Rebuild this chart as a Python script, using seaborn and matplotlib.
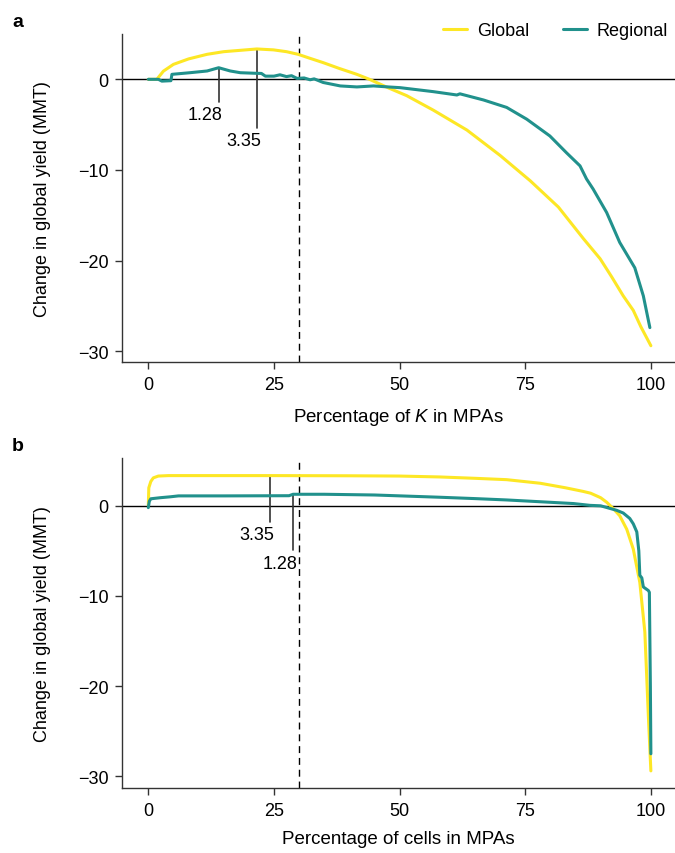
import numpy as np
import pandas as pd
import matplotlib
matplotlib.use("Agg")
import matplotlib.pyplot as plt
import seaborn as sns

# Panel a: change in global yield vs percentage of K in MPAs
k_global_x = [0, 1.7, 3, 5, 8, 11.7, 15, 18.3, 21.6, 24.9, 27.5, 29.8, 32, 34.8, 38, 41.5, 44,
              46, 48, 51.4, 56.7, 63.4, 70, 76, 81.6, 86.6, 89.9, 92.2, 94.5, 96.5, 98, 100]
k_global_y = [0, 0, 0.9, 1.65, 2.25, 2.76, 3.05, 3.2, 3.35, 3.25, 3.05, 2.76, 2.35, 1.84, 1.2, 0.55, 0,
              -0.5, -1.0, -1.8, -3.4, -5.6, -8.4, -11.2, -14.1, -17.6, -19.8, -21.8, -23.9, -25.5, -27.3, -29.4]

k_regional_x = [0, 2, 2.7, 4.5, 4.7, 8.3, 11.7, 14, 16.3, 18.3, 21.6, 22.5, 23.3, 25, 26.2, 27.5, 28.5,
                29.6, 31, 32.2, 33, 34.8, 38.2, 41.5, 44.8, 48, 50.1, 56.7, 61.4, 62, 66.7, 71.3,
                75.3, 79.9, 83.2, 85.9, 87.2, 88.5, 91.2, 93.8, 96.8, 98.5, 99.8]
k_regional_y = [0, 0, -0.2, -0.15, 0.55, 0.73, 0.92, 1.28, 0.92, 0.73, 0.66, 0.65, 0.35, 0.35, 0.5, 0.3, 0.4,
                0.1, 0.15, -0.05, 0.05, -0.35, -0.73, -0.84, -0.73, -0.85, -0.92, -1.36, -1.73, -1.6, -2.28, -3.1,
                -4.4, -6.25, -8.1, -9.55, -11.0, -12.1, -14.7, -18.0, -20.8, -23.9, -27.4]

# Panel b: change in global yield vs percentage of cells in MPAs
cell_global_x = [0, 0.1, 0.5, 1, 2, 4, 25, 40, 50, 58, 65, 71.3, 78, 83, 86.5, 88, 90, 91.2,
                 92.5, 93.8, 95.2, 96.5, 97.8, 98.8, 99.5, 100]
cell_global_y = [0, 2.0, 2.7, 3.1, 3.3, 3.35, 3.35, 3.33, 3.3, 3.2, 3.05, 2.9, 2.5, 2.0, 1.6, 1.4, 0.9, 0.4,
                 -0.3, -1.1, -2.6, -4.8, -8.5, -14.0, -23.3, -29.4]

cell_regional_x = [0, 0.2, 0.5, 2.4, 4.4, 6, 15, 28, 28.8, 35, 45, 58, 65, 71.3, 78, 84.6, 87.9, 90,
                   93.2, 94.5, 95.8, 96.5, 97.2, 97.6, 97.8, 98.2, 98.5, 99.5, 99.7, 99.9, 100]
cell_regional_y = [-0.2, 0.5, 0.78, 0.9, 1.0, 1.1, 1.1, 1.12, 1.28, 1.28, 1.2, 0.95, 0.8, 0.65, 0.45, 0.25, 0.05, 0.0,
                   -0.5, -0.8, -1.4, -2.0, -2.9, -5.0, -7.7, -8.0, -9.0, -9.4, -9.6, -20.0, -27.5]

# peak annotations (x of peak, peak value, where the marker line stops)
a_peak_x = [14, 21.6]
a_peak_y = [1.28, 3.35]
a_line_end = [-2.45, -5.4]
b_peak_x = [24.25, 28.8]
b_peak_y = [3.35, 1.28]
b_line_end = [-1.8, -4.95]

yticks = [0, -10, -20, -30]
xticks = [0, 25, 50, 75, 100]
target_pct = 30

palette = {"Global": "#fde725", "Regional": "#21918c"}


def make_frame(gx, gy, rx, ry):
    g = pd.DataFrame({"pct": gx, "change": gy, "scenario": "Global"})
    r = pd.DataFrame({"pct": rx, "change": ry, "scenario": "Regional"})
    return pd.concat([g, r], ignore_index=True)


def style_axis(ax, ylim):
    ax.axhline(0, color="black", lw=1.0, zorder=1)
    ax.axvline(target_pct, color="black", lw=1.0, ls=(0, (5, 3.5)), zorder=1)
    ax.set_xlim(-5.2, 104.8)
    ax.set_ylim(*ylim)
    ax.set_xticks(xticks)
    ax.set_yticks(yticks)
    ax.tick_params(length=5, width=1.0, pad=5, labelsize=13, color="#333333", labelcolor="black")
    for s in ["left", "bottom"]:
        ax.spines[s].set_linewidth(1.0)
        ax.spines[s].set_color("#333333")
    sns.despine(ax=ax)
    ax.set_ylabel("Change in global yield (MMT)", fontsize=13)
    ax.yaxis.set_label_coords(-0.128, 0.5)


def annotate_peaks(ax, xs, ys, ends):
    for x, y, e in zip(xs, ys, ends):
        ax.plot([x, x], [y, e], color="#333333", lw=1.2, zorder=1.5)
        ax.annotate(f"{y:.2f}", xy=(x, e), xytext=(3, -3), textcoords="offset points",
                    ha="right", va="top", fontsize=13)


sns.set_theme(style="ticks")
plt.rcParams["font.family"] = ["Liberation Sans", "DejaVu Sans"]
plt.rcParams["text.color"] = "black"
plt.rcParams["axes.labelcolor"] = "black"
plt.rcParams["mathtext.fontset"] = "custom"
plt.rcParams["mathtext.rm"] = "Liberation Sans"
plt.rcParams["mathtext.it"] = "Liberation Sans:italic"

fig = plt.figure(figsize=(6.75, 8.54), dpi=100)
ax_a = fig.add_axes([0.181, 0.5749, 0.819, 0.3841])
ax_b = fig.add_axes([0.181, 0.0761, 0.819, 0.3864])

df_a = make_frame(k_global_x, k_global_y, k_regional_x, k_regional_y)
df_b = make_frame(cell_global_x, cell_global_y, cell_regional_x, cell_regional_y)

sns.lineplot(data=df_a, x="pct", y="change", hue="scenario", palette=palette,
             estimator=None, lw=2.2, ax=ax_a, zorder=2)
sns.lineplot(data=df_b, x="pct", y="change", hue="scenario", palette=palette,
             estimator=None, lw=2.2, ax=ax_b, legend=False, zorder=2)

style_axis(ax_a, (-31.2, 5.0))
style_axis(ax_b, (-31.3, 5.3))

ax_a.set_xlabel("Percentage of $K$ in MPAs", fontsize=13.5, va="top")
ax_a.xaxis.set_label_coords(0.5, -0.135)
ax_b.set_xlabel("Percentage of cells in MPAs", fontsize=13.5, va="top")
ax_b.xaxis.set_label_coords(0.5, -0.128)

annotate_peaks(ax_a, a_peak_x, a_peak_y, a_line_end)
annotate_peaks(ax_b, b_peak_x, b_peak_y, b_line_end)

handles, labels = ax_a.get_legend_handles_labels()
ax_a.get_legend().remove()
fig.legend(handles, labels, loc="center right", bbox_to_anchor=(668 / 675, 1 - 32 / 854),
           ncol=2, frameon=False, fontsize=13, handlelength=1.3, handletextpad=0.55,
           columnspacing=1.9, borderpad=0, borderaxespad=0)

fig.text(12 / 675, 1 - 27 / 854, "a", fontsize=14, fontweight="bold", va="baseline")
fig.text(12 / 675, 1 - 451 / 854, "b", fontsize=14, fontweight="bold", va="baseline")

fig.savefig("out.png", dpi=100)
